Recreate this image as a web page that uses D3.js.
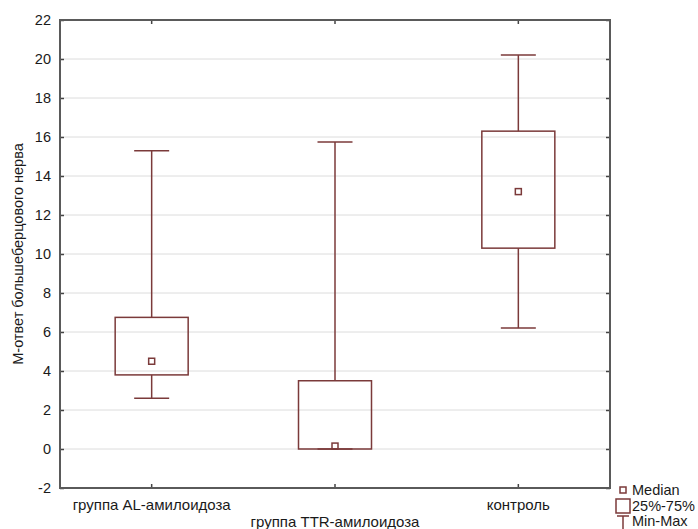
<!DOCTYPE html>
<html>
<head>
<meta charset="utf-8">
<script src="https://cdn.jsdelivr.net/npm/d3@7"></script>
<style>
  body { margin: 0; background: #fff; }
  text { font-family: "Liberation Sans", Arial, sans-serif; }
</style>
</head>
<body>
<div id="chart"></div>
<script>
// Data
const categories = ["группа AL-амилоидоза", "группа TTR-амилоидоза", "контроль"];
const mins    = [2.6, 0.0, 6.2];
const q1s     = [3.8, 0.0, 10.3];
const medians = [4.5, 0.15, 13.2];
const q3s     = [6.75, 3.5, 16.3];
const maxs    = [15.3, 15.75, 20.2];
const yTicks  = [-2, 0, 2, 4, 6, 8, 10, 12, 14, 16, 18, 20, 22];
const yTitle  = "М-ответ большеберцового нерва";
const legendItems = ["Median", "25%-75%", "Min-Max"];

const width = 698, height = 529;
const margin = { left: 60, right: 88, top: 20, bottom: 41 };
const boxColor = "#7b3a3a";
const fontSize = "14.5px";

const svg = d3.select("#chart").append("svg")
  .attr("width", width)
  .attr("height", height);

const x = d3.scaleBand()
  .domain(categories)
  .range([margin.left, width - margin.right]);

const y = d3.scaleLinear()
  .domain([-2, 22])
  .range([height - margin.bottom, margin.top]);

const x0 = margin.left, x1 = width - margin.right;
const y0 = height - margin.bottom, y1 = margin.top;

// Gridlines
svg.append("g")
  .selectAll("line")
  .data(yTicks.filter(t => t > -2 && t < 22))
  .join("line")
  .attr("x1", x0).attr("x2", x1)
  .attr("y1", d => y(d)).attr("y2", d => y(d))
  .attr("stroke", "#dcdcdc")
  .attr("stroke-width", 1);

// Axes with inward ticks
const leftAxis = svg.append("g")
  .attr("transform", `translate(${x0},0)`)
  .call(d3.axisLeft(y).tickValues(yTicks).tickSize(-4).tickPadding(9).tickFormat(d => String(d)));
const rightAxis = svg.append("g")
  .attr("transform", `translate(${x1},0)`)
  .call(d3.axisRight(y).tickValues(yTicks).tickSize(-4).tickFormat(""));
const topAxis = svg.append("g")
  .attr("transform", `translate(0,${y1})`)
  .call(d3.axisTop(x).tickSize(-4).tickFormat(""));
const bottomAxis = svg.append("g")
  .attr("transform", `translate(0,${y0})`)
  .call(d3.axisBottom(x).tickSize(-4).tickFormat(""));

[leftAxis, rightAxis, topAxis, bottomAxis].forEach(g => {
  g.select(".domain").remove();
  g.selectAll(".tick line").attr("stroke", "#444").attr("stroke-width", 1.5);
});
leftAxis.selectAll(".tick text")
  .attr("font-size", fontSize)
  .attr("fill", "#1a1a1a");

// Category labels, staggered in two rows
svg.append("g")
  .selectAll("text")
  .data(categories)
  .join("text")
  .attr("x", d => x(d) + x.bandwidth() / 2)
  .attr("y", (d, i) => i % 2 === 0 ? 510 : 527)
  .attr("text-anchor", "middle")
  .attr("font-size", "15px")
  .attr("fill", "#1a1a1a")
  .text(d => d);

// Frame
svg.append("rect")
  .attr("x", x0).attr("y", y1)
  .attr("width", x1 - x0).attr("height", y0 - y1)
  .attr("fill", "none")
  .attr("stroke", "#5a5a5a")
  .attr("stroke-width", 2);

// Y title
svg.append("text")
  .attr("transform", `translate(23,${(y0 + y1) / 2}) rotate(-90)`)
  .attr("text-anchor", "middle")
  .attr("font-size", fontSize)
  .attr("fill", "#1a1a1a")
  .text(yTitle);

// Boxes
const boxW = 73, capW = 35, medS = 6;
const g = svg.append("g")
  .attr("stroke", boxColor)
  .attr("stroke-width", 1.5)
  .attr("fill", "none");

categories.forEach((c, i) => {
  const cx = x(c) + x.bandwidth() / 2;
  // whiskers
  g.append("line").attr("x1", cx).attr("x2", cx)
    .attr("y1", y(maxs[i])).attr("y2", y(q3s[i]));
  g.append("line").attr("x1", cx).attr("x2", cx)
    .attr("y1", y(q1s[i])).attr("y2", y(mins[i]));
  g.append("line").attr("x1", cx - capW / 2).attr("x2", cx + capW / 2)
    .attr("y1", y(maxs[i])).attr("y2", y(maxs[i]));
  g.append("line").attr("x1", cx - capW / 2).attr("x2", cx + capW / 2)
    .attr("y1", y(mins[i])).attr("y2", y(mins[i]));
  // box
  g.append("rect")
    .attr("x", cx - boxW / 2).attr("y", y(q3s[i]))
    .attr("width", boxW).attr("height", y(q1s[i]) - y(q3s[i]));
  // median
  g.append("rect")
    .attr("x", cx - medS / 2).attr("y", y(medians[i]) - medS / 2)
    .attr("width", medS).attr("height", medS);
});

// Legend
const lg = svg.append("g");
const ly = [490, 506, 521];
lg.append("rect")
  .attr("x", 620).attr("y", ly[0] - 3).attr("width", 6).attr("height", 6)
  .attr("fill", "none").attr("stroke", boxColor).attr("stroke-width", 1.5);
lg.append("rect")
  .attr("x", 616).attr("y", ly[1] - 7).attr("width", 14).attr("height", 14)
  .attr("fill", "none").attr("stroke", boxColor).attr("stroke-width", 1.5);
lg.append("line")
  .attr("x1", 617).attr("x2", 629).attr("y1", ly[2] - 5).attr("y2", ly[2] - 5)
  .attr("stroke", boxColor).attr("stroke-width", 1.5);
lg.append("line")
  .attr("x1", 623).attr("x2", 623).attr("y1", ly[2] - 5).attr("y2", ly[2] + 8)
  .attr("stroke", boxColor).attr("stroke-width", 1.5);
lg.selectAll("text")
  .data(legendItems)
  .join("text")
  .attr("x", 632)
  .attr("y", (d, i) => ly[i] + 5)
  .attr("font-size", fontSize)
  .attr("fill", "#1a1a1a")
  .text(d => d);
</script>
</body>
</html>
